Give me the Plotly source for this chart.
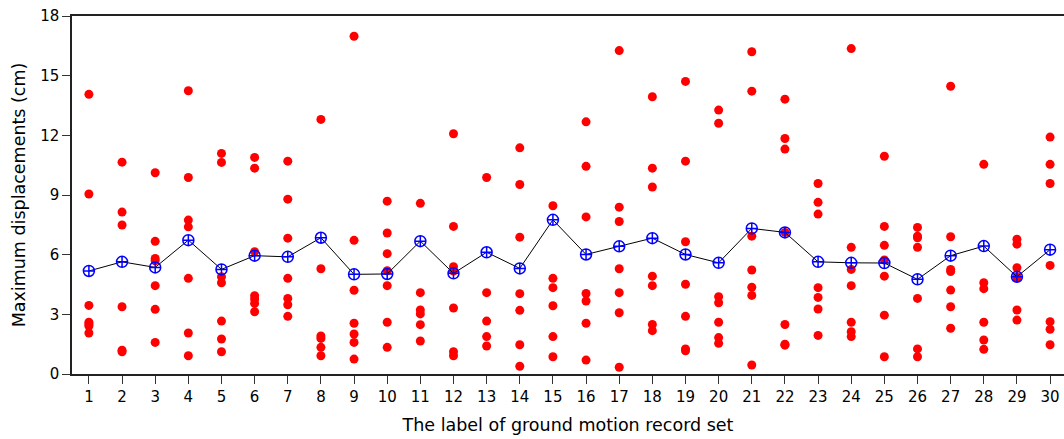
import plotly.graph_objects as go

record_sets = list(range(1, 31))

displacements = [
    [14.06, 9.05, 3.45, 2.60, 2.50, 2.41, 2.06],
    [10.65, 8.14, 7.49, 3.38, 1.20, 1.12],
    [10.12, 6.67, 5.81, 5.69, 4.44, 3.25, 1.59],
    [14.24, 9.88, 7.74, 7.40, 4.81, 2.06, 0.92],
    [11.09, 10.64, 4.89, 4.59, 2.66, 1.76, 1.12],
    [10.89, 10.35, 6.15, 3.94, 3.77, 3.55, 3.13],
    [10.70, 8.79, 6.83, 4.81, 3.80, 3.48, 2.90],
    [12.80, 5.29, 1.91, 1.79, 1.34, 0.92],
    [16.98, 6.72, 4.21, 2.55, 2.01, 1.59, 0.75],
    [8.69, 7.09, 6.05, 5.19, 4.44, 2.60, 1.34],
    [8.58, 4.09, 3.22, 3.02, 2.48, 1.66],
    [12.08, 7.42, 5.39, 5.17, 3.32, 1.12, 0.92],
    [9.88, 4.09, 2.66, 1.88, 1.41],
    [11.37, 9.53, 6.88, 4.04, 3.20, 1.47, 0.39],
    [8.46, 4.81, 4.34, 3.43, 1.88, 0.87],
    [12.68, 10.44, 7.90, 4.05, 3.67, 2.55, 0.70],
    [16.26, 8.39, 7.67, 5.29, 4.09, 3.08, 0.34],
    [13.94, 10.35, 9.40, 4.92, 4.44, 2.49, 2.18],
    [14.71, 10.70, 6.65, 4.51, 2.90, 1.26, 1.17],
    [13.27, 12.61, 3.89, 3.58, 2.60, 1.83, 1.54],
    [16.20, 14.22, 6.93, 5.23, 4.36, 3.95, 0.45],
    [13.82, 11.84, 11.31, 7.12, 2.49, 1.50, 1.45],
    [9.58, 8.63, 8.04, 4.34, 3.85, 3.27, 1.94],
    [16.36, 6.37, 5.26, 4.44, 2.60, 2.13, 1.88],
    [10.95, 7.42, 6.47, 5.73, 4.92, 2.96, 0.87],
    [7.37, 6.93, 6.85, 6.37, 3.80, 1.26, 0.87],
    [14.47, 6.90, 5.26, 5.15, 4.22, 3.38, 2.30],
    [10.54, 4.59, 4.29, 2.60, 1.71, 1.24],
    [6.78, 6.53, 5.34, 4.89, 4.85, 3.22, 2.71],
    [11.91, 10.54, 9.58, 5.46, 2.63, 2.25, 1.47],
]

mean_displacement = [5.18, 5.64, 5.36, 6.73, 5.26, 5.95, 5.89, 6.85, 5.01, 5.03,
                     6.68, 5.06, 6.12, 5.31, 7.75, 6.01, 6.42, 6.83, 6.01, 5.59,
                     7.32, 7.12, 5.64, 5.59, 5.58, 4.76, 5.95, 6.43, 4.89, 6.25]

y_ticks = [0, 3, 6, 9, 12, 15, 18]

FONT = "DejaVu Sans"

xs, ys = [], []
for s, vals in zip(record_sets, displacements):
    for v in vals:
        xs.append(s)
        ys.append(v)

fig = go.Figure()
fig.add_trace(go.Scatter(
    x=xs, y=ys, mode="markers",
    marker=dict(color="#ff0000", size=9, line=dict(width=0)),
    showlegend=False,
))
fig.add_trace(go.Scatter(
    x=record_sets, y=mean_displacement, mode="lines+markers",
    line=dict(color="black", width=1),
    marker=dict(symbol="circle-cross-open", color="#0000ff", size=11,
                line=dict(width=1.5, color="#0000ff")),
    showlegend=False,
))

fig.update_layout(
    width=1064, height=439,
    margin=dict(l=72, r=0, t=16, b=65),
    plot_bgcolor="white", paper_bgcolor="white",
    font=dict(family=FONT, size=15, color="black"),
)
fig.update_xaxes(
    range=[0.49, 30.42], tickmode="array", tickvals=record_sets,
    ticks="outside", ticklen=8, tickwidth=1, tickcolor="#333",
    showline=True, linecolor="#222", linewidth=1.5, mirror=True,
    showgrid=False, zeroline=False, automargin=False,
    ticklabeloverflow="allow",
    tickfont=dict(family=FONT, size=15),
    title=dict(text="The label of ground motion record set",
               font=dict(family=FONT, size=17.5), standoff=14),
)
fig.update_yaxes(
    range=[0, 18], tickmode="array", tickvals=y_ticks,
    ticks="outside", ticklen=8, tickwidth=1, tickcolor="#333",
    showline=True, linecolor="#222", linewidth=1.5,
    showgrid=False, zeroline=False, automargin=False,
    ticklabeloverflow="allow",
    tickfont=dict(family=FONT, size=15),
    title=dict(text="Maximum displacements (cm)",
               font=dict(family=FONT, size=17.5), standoff=10),
)

fig.write_html(
    "out.html",
    config={"displayModeBar": False},
    post_script="document.body.style.margin='0';document.body.style.overflow='hidden';",
)
